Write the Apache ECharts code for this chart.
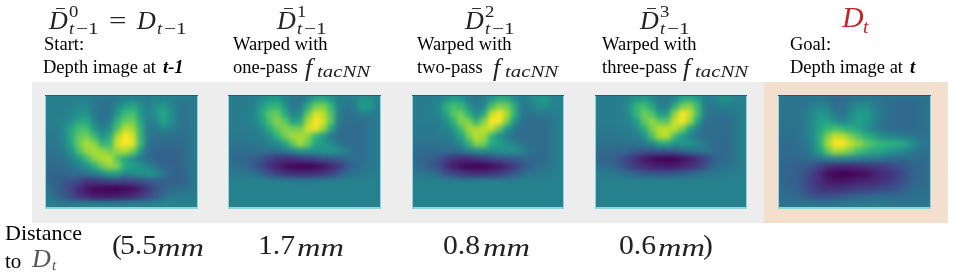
<!DOCTYPE html>
<html><head><meta charset="utf-8">
<style>
html,body{margin:0;padding:0;background:#fff;width:955px;height:273px;overflow:hidden}
#base,#heat{position:absolute;left:0;top:0;width:955px;height:273px}
#heat{filter:blur(2.6px)}
</style>
<script src="https://cdn.jsdelivr.net/npm/echarts@6/dist/echarts.min.js"></script>
</head><body>
<div id="base"></div><div id="heat"></div>
<script>
// Depth values on a 0-100 colour scale (rows top to bottom).
const depthStart = [
[43,43,43,43,43,43,40,38,38,40,43,45,43,42,45,45,43,41,41,41],
[43,43,43,43,47,47,40,37,38,47,55,60,50,43,50,54,46,40,39,41],
[43,43,43,45,50,52,41,36,39,54,68,70,54,43,52,60,50,40,38,41],
[43,43,45,50,60,60,45,38,43,64,76,78,60,43,46,58,50,40,38,41],
[42,42,47,60,70,70,52,43,50,72,90,86,64,42,41,46,43,39,37,41],
[41,41,47,62,76,78,68,52,60,88,100,94,66,40,37,37,37,36,37,41],
[40,40,45,60,78,88,82,66,68,94,100,96,68,39,34,34,34,34,36,41],
[38,38,42,52,72,84,88,84,78,84,88,78,54,36,32,32,32,32,36,41],
[35,36,38,44,54,68,82,88,90,72,60,50,40,34,32,31,31,32,36,41],
[33,34,36,39,43,50,62,76,84,80,60,56,52,46,38,33,32,32,35,40],
[32,32,33,34,36,38,42,48,56,56,46,48,50,52,48,39,33,32,33,40],
[33,31,28,25,21,16,16,18,20,20,20,22,24,28,30,31,31,31,33,40],
[36,31,26,20,11,6,2,1,0,0,2,4,9,17,25,31,34,35,37,40],
[40,34,28,22,15,11,8,7,7,8,10,13,17,23,29,35,40,41,42,43],
[44,42,40,40,42,43,44,43,43,43,43,44,43,43,45,46,46,45,44,44]];
const depthOnePass = [
[42,42,42,43,48,54,54,45,40,38,46,58,60,52,42,42,43,50,50,44],
[42,42,42,45,56,64,66,52,40,41,62,78,80,66,43,40,43,54,54,44],
[42,42,43,47,60,74,76,60,43,50,76,94,90,72,43,38,38,43,43,42],
[42,42,43,46,56,72,82,74,56,60,88,100,94,74,42,36,36,36,39,42],
[42,42,42,43,50,62,76,82,78,78,94,98,84,60,38,35,35,35,39,42],
[41,41,41,42,44,50,64,78,86,88,82,66,54,40,35,35,35,35,39,42],
[39,39,39,40,41,44,48,58,74,86,76,58,54,48,40,35,35,35,39,42],
[36,36,36,36,36,36,36,39,45,52,50,50,52,52,50,44,36,35,39,42],
[35,33,32,30,25,20,15,14,15,18,20,22,26,28,31,33,36,36,39,42],
[37,35,33,28,22,14,8,4,1,0,0,2,5,10,17,25,33,37,40,42],
[41,40,39,37,31,25,20,16,14,13,13,14,16,20,27,35,39,40,41,43],
[44,44,44,44,44,43,43,43,42,42,42,43,43,43,44,44,44,44,44,44],
[44,44,44,44,44,44,44,44,44,44,44,44,44,44,44,44,44,44,44,44],
[44,44,44,44,44,44,44,44,44,44,44,44,44,44,44,44,44,44,44,44],
[44,44,44,44,44,44,44,44,44,44,44,44,44,44,44,44,44,44,44,44]];
const depthTwoPass = [
[42,42,42,43,50,56,52,43,40,42,52,62,60,48,42,45,52,54,46,44],
[42,42,43,47,62,70,66,52,42,46,70,80,78,62,42,42,48,50,45,44],
[42,42,43,46,58,74,78,62,46,60,90,100,88,64,40,38,40,40,42,44],
[42,42,42,43,50,64,82,80,64,80,100,100,80,54,37,35,35,36,40,44],
[41,41,41,42,45,54,70,86,86,90,92,76,54,40,35,35,35,35,40,44],
[40,40,40,41,42,45,58,78,90,86,66,50,43,36,35,35,35,35,40,44],
[37,37,38,38,39,42,48,64,82,78,60,56,50,46,39,35,35,35,40,44],
[34,34,34,34,34,33,36,42,48,48,48,50,50,50,46,39,35,35,40,44],
[33,32,30,25,20,15,12,12,15,18,22,25,28,30,32,33,33,34,40,44],
[35,33,28,24,14,8,3,1,0,1,3,6,11,18,25,31,35,37,40,44],
[40,39,37,33,26,22,18,15,14,14,16,19,23,28,35,39,40,41,42,44],
[44,44,44,44,43,43,43,43,43,43,43,43,43,43,44,44,44,44,44,44],
[44,44,44,44,44,44,44,44,44,44,44,44,44,44,44,44,44,44,44,44],
[44,44,44,44,44,44,44,44,44,44,44,44,44,44,44,44,44,44,44,44],
[44,44,44,44,44,44,44,44,44,44,44,44,44,44,44,44,44,44,44,44]];
const depthThreePass = [
[42,42,42,43,46,52,56,48,42,40,46,58,62,56,43,43,48,50,45,44],
[42,42,42,43,52,66,70,58,43,42,60,78,82,68,43,40,43,45,42,44],
[42,42,42,43,50,66,78,72,54,54,82,100,92,70,42,38,37,38,40,44],
[42,42,42,43,46,56,74,84,74,72,92,100,86,60,38,35,35,35,39,44],
[41,41,41,42,43,48,62,80,90,90,90,80,58,42,35,35,35,35,39,44],
[39,39,39,40,41,43,50,70,88,90,70,54,46,39,35,35,35,35,39,44],
[37,37,37,37,37,38,42,48,58,60,52,52,52,48,42,36,34,35,39,44],
[34,34,34,33,31,28,26,25,26,26,28,32,36,38,38,37,34,34,39,44],
[33,32,30,25,20,13,7,3,1,0,1,4,8,13,20,28,33,35,39,44],
[36,35,32,28,22,17,13,10,8,7,8,10,13,18,24,32,36,38,40,44],
[42,41,40,38,34,31,29,28,27,27,28,30,32,35,38,40,41,42,43,44],
[44,44,44,44,44,44,44,44,44,44,44,44,44,44,44,44,44,44,44,44],
[44,44,44,44,44,44,44,44,44,44,44,44,44,44,44,44,44,44,44,44],
[44,44,44,44,44,44,44,44,44,44,44,44,44,44,44,44,44,44,44,44],
[44,44,44,44,44,44,44,44,44,44,44,44,44,44,44,44,44,44,44,44]];
const depthGoal = [
[38,38,38,38,39,39,37,34,34,36,39,41,39,37,36,35,35,35,36,38],
[38,38,38,39,43,47,43,36,36,43,48,50,44,39,36,34,34,34,35,38],
[38,38,38,41,47,52,50,41,39,47,54,55,48,41,36,34,34,34,35,38],
[38,38,38,41,48,56,58,50,45,50,56,54,46,39,36,34,34,34,35,38],
[37,37,38,41,48,58,66,70,66,62,58,50,43,38,35,34,34,34,35,37],
[36,36,37,40,48,62,80,92,90,80,72,64,58,50,46,44,42,40,38,38],
[35,35,36,39,46,62,86,100,100,92,84,76,70,66,64,62,60,52,42,38],
[34,34,35,38,44,56,74,86,84,78,70,64,60,58,54,50,46,42,38,36],
[33,33,33,34,36,39,44,46,46,44,42,40,40,38,36,35,34,34,34,35],
[32,32,31,29,26,20,14,11,10,11,12,14,16,18,20,24,28,31,33,35],
[32,32,30,26,20,12,4,1,0,0,2,4,8,11,14,18,24,30,33,35],
[33,32,30,24,18,13,8,6,6,7,9,10,12,14,17,21,26,31,34,35],
[34,33,31,26,20,16,14,14,15,16,18,19,20,22,24,26,30,33,35,36],
[36,35,33,31,26,24,24,26,28,30,32,33,33,34,34,35,35,36,37,37],
[38,38,38,39,39,39,39,39,40,41,41,41,41,41,40,39,39,39,39,39]];
const panels = [depthStart, depthOnePass, depthTwoPass, depthThreePass, depthGoal];
const viridis = ['#440154','#482878','#3e4989','#31688e','#26828e','#1f9e89','#35b779','#6ece58','#b5de2b','#fde725'];
const distances = ['5.5','1.7','0.8','0.6'];
const superscripts = ['0','1','2','3'];
const passNames = ['one-pass','two-pass','three-pass'];

// Layout
const boxes = [[45,95,153,113],[228,95,153,113],[412,95,152,113],[595,95,152,113],[778,95,153,113]];
const heat = echarts.init(document.getElementById('heat'), null, {renderer:'canvas'});
const idx = n => Array.from({length:n}, (_, i) => i);
heat.setOption({
  animation:false,
  backgroundColor:'#26808e',
  grid: boxes.map(b => ({left:b[0], top:b[1], width:b[2], height:b[3], show:false})),
  xAxis: boxes.map((b,i) => ({type:'category', gridIndex:i, show:false, data:idx(20)})),
  yAxis: boxes.map((b,i) => ({type:'category', gridIndex:i, show:false, inverse:true, data:idx(15)})),
  visualMap:{show:false, min:0, max:100, inRange:{color:viridis}, seriesIndex:idx(5)},
  series: panels.map((rows,i) => ({
    type:'heatmap', xAxisIndex:i, yAxisIndex:i, progressive:0,
    data: rows.flatMap((r,y) => r.map((v,x) => [x,y,v]))
  }))
});
// Keep the softened picture inside each panel (1px inset shows the thin edge drawn below).
const clip = boxes.map(b => `M${b[0]+1} ${b[1]+1}H${b[0]+b[2]-1}V${b[1]+b[3]-1}H${b[0]+1}Z`).join('');
document.getElementById('heat').style.clipPath = `path('${clip}')`;

const g = [];
const rect = (x,y,w,h,fill) => g.push({type:'rect', shape:{x,y,width:w,height:h}, style:{fill}, silent:true});
const SERIF = '"Liberation Serif"';
const text = (x,y,s,font,fill,sx) => g.push({type:'text', x, y, scaleX:sx||1, silent:true,
  style:{x:0,y:0,text:s,font,fill:fill||'#000',textAlign:'left',textVerticalAlign:'middle'}});

rect(32,82,732,141,'#ededed');
rect(764,82,184,141,'#f3dfcd');
boxes.forEach(b => { rect(b[0],b[1],b[2],b[3]+1,'#8ed4da'); rect(b[0],b[1],b[2],1,'#14617a'); });

const MATH = '#222';
const bar = (x,y,w) => g.push({type:'line', shape:{x1:x,y1:y,x2:x+w,y2:y}, style:{stroke:'#333',lineWidth:1}, silent:true});
const sub = x => {
  text(x,30,'t',`italic 17px ${SERIF}`,MATH,1.1);
  text(x+7,30,'\u22121',`17px ${SERIF}`,MATH,1.25);
};
const dBar = (x,sup) => {
  text(x,22,'D',`italic 26px ${SERIF}`,MATH);
  bar(x+7,8.5,9);
  if (sup!==undefined) text(x+20,13,sup,`17px ${SERIF}`,MATH,1.1);
  sub(x+20);
};
const fNet = (x) => {
  text(x,69,'f',`italic 26px ${SERIF}`,MATH);
  text(x+12,73,'tacNN',`italic 16px ${SERIF}`,MATH,1.3);
};
const BODY = `18.5px ${SERIF}`;

// Titles
dBar(49,superscripts[0]);
text(109,22,'=',`24px ${SERIF}`,MATH,1.3);
text(137,22,'D',`italic 26px ${SERIF}`,MATH);
sub(157);
dBar(277,superscripts[1]);
dBar(465,superscripts[2]);
dBar(640,superscripts[3]);
text(842,19,'D',`italic 30px ${SERIF}`,'#c0272d');
text(863,28,'t',`italic 18px ${SERIF}`,'#c0272d',1.1);

// Captions
text(44,45,'Start:',BODY);
text(43,68,'Depth image at ',BODY);
text(163,68,'t-1',`italic bold 18.5px ${SERIF}`);
[[233,305],[417,493],[602,683]].forEach((p,i) => {
  text(p[0],45,'Warped with',BODY);
  text(p[0],68,passNames[i],BODY);
  fNet(p[1]);
});
text(790,45,'Goal:',BODY);
text(790,68,'Depth image at ',BODY);
text(910,68,'t',`italic bold 18.5px ${SERIF}`);

// Distances
text(5,234,'Distance',`22px ${SERIF}`);
text(5,262,'to',`21px ${SERIF}`);
text(32,260,'D',`italic 26px ${SERIF}`,'#555');
text(52,266,'t',`italic 15px ${SERIF}`,'#555');
const NUM = `27px ${SERIF}`, MM = `italic 26px ${SERIF}`;
[[120,157],[258,297],[443,483],[619,658]].forEach((p,i) => {
  text(p[0],247,distances[i],NUM,MATH,1.1);
  text(p[1],249,'mm',MM,MATH,1.25);
});
text(112,247,'(',`27px ${SERIF}`,MATH,1.1);
text(703,247,')',`27px ${SERIF}`,MATH,1.1);

const base = echarts.init(document.getElementById('base'), null, {renderer:'canvas'});
base.setOption({animation:false, backgroundColor:'#fff', graphic:{elements:g}});
</script>
</body></html>
